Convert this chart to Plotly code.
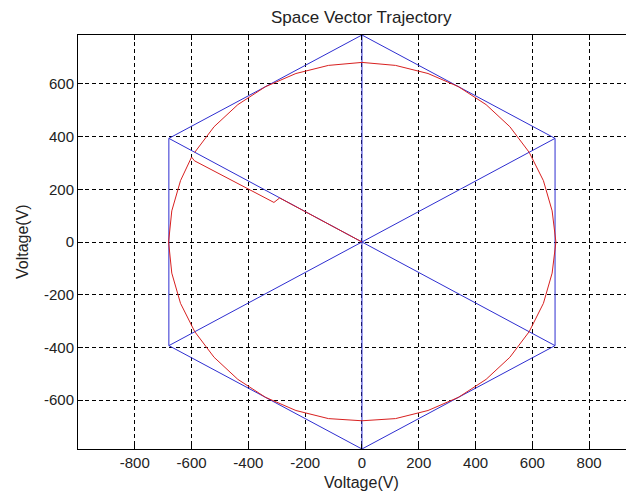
import plotly.graph_objects as go

# Hexagon (space-vector boundary) vertices, Volts
hex_x = [0, 680, 680, 0, -680, -680, 0]
hex_y = [785, 393, -393, -785, -393, 393, 785]

# Spokes through the origin
spoke1_x = [0, 0]
spoke1_y = [785, -785]
spoke2_x = [-680, 680]
spoke2_y = [393, -393]
spoke3_x = [-680, 680]
spoke3_y = [-393, 393]

# Red reference-vector trajectory (start-up transient then circular path)
traj_x = [0, -290, -310, -590, -600,
          -639.0, -669.7, -681.0, -669.7, -639.0, -588.9, -520.9, -437.1, -340.0,
          -232.6, -118.1, 0.0, 118.1, 232.6, 340.0, 437.1, 520.9, 588.9, 639.0,
          669.7, 683.0, 669.7, 639.0, 588.9, 520.9, 437.1, 340.0, 232.6, 118.1,
          0.0, -118.1, -232.6, -340.0, -437.1, -520.9, -588.9]
traj_y = [0, 167, 150, 308, 322,
          232.6, 118.1, 0.0, -118.1, -232.6, -340.0, -437.1, -520.9, -588.9,
          -639.0, -669.7, -678.0, -669.7, -639.0, -588.9, -520.9, -437.1, -340.0, -232.6,
          -118.1, 0.0, 118.1, 232.6, 340.0, 437.1, 520.9, 588.9, 639.0, 669.7,
          681.0, 669.7, 639.0, 588.9, 520.9, 437.1, 340.0]

x_ticks = [-800, -600, -400, -200, 0, 200, 400, 600, 800]
x_tick_labels = ["-800", "-600", "-400", "-200", "0", "200", "400", "600", "800"]
y_ticks = [-600, -400, -200, 0, 200, 400, 600]
y_tick_labels = ["-600", "-400", "-200", "0", "200", "400", "600"]

BLUE = "#2e2ed0"
RED = "#d82020"
FONT = "Liberation Sans, Arial, sans-serif"
TXT = "#222222"

fig = go.Figure()
for xs, ys in [(hex_x, hex_y), (spoke1_x, spoke1_y), (spoke2_x, spoke2_y), (spoke3_x, spoke3_y)]:
    fig.add_trace(go.Scatter(x=xs, y=ys, mode="lines",
                             line=dict(color=BLUE, width=1), showlegend=False,
                             hoverinfo="skip"))
fig.add_trace(go.Scatter(x=traj_x, y=traj_y, mode="lines",
                         line=dict(color=RED, width=1), showlegend=False,
                         hoverinfo="skip"))

axis_common = dict(
    showgrid=True, gridcolor="#000000", griddash="4px,3px", gridwidth=1,
    zeroline=False, showline=True, linecolor="#000000", linewidth=1,
    ticks="inside", ticklen=5, tickcolor="#000000",
    tickfont=dict(family=FONT, size=15, color=TXT),
)

fig.update_xaxes(range=[-1000, 958], tickvals=x_ticks, ticktext=x_tick_labels,
                 mirror="ticks", **axis_common)
fig.update_yaxes(range=[-785, 785], tickvals=y_ticks, ticktext=y_tick_labels,
                 mirror=False, **axis_common)

# Page body has an 8px default margin, so the figure is sized/offset accordingly
fig.update_layout(
    width=626, height=486,
    margin=dict(l=70, r=0, t=27, b=45),
    paper_bgcolor="white", plot_bgcolor="white",
    font=dict(family=FONT, color=TXT),
    annotations=[
        dict(text="Space Vector Trajectory", x=0.51, y=1.043, xref="paper", yref="paper",
             showarrow=False, xanchor="center", yanchor="middle",
             font=dict(family=FONT, size=17, color=TXT)),
        dict(text="Voltage(V)", x=0.51, y=-0.082, xref="paper", yref="paper",
             showarrow=False, xanchor="center", yanchor="middle",
             font=dict(family=FONT, size=16, color=TXT)),
        dict(text="Voltage(V)", x=-0.1007, y=0.5, xref="paper", yref="paper",
             showarrow=False, xanchor="center", yanchor="middle", textangle=-90,
             font=dict(family=FONT, size=16, color=TXT)),
    ],
)

fig.write_html("out.html", config={"displayModeBar": False})
